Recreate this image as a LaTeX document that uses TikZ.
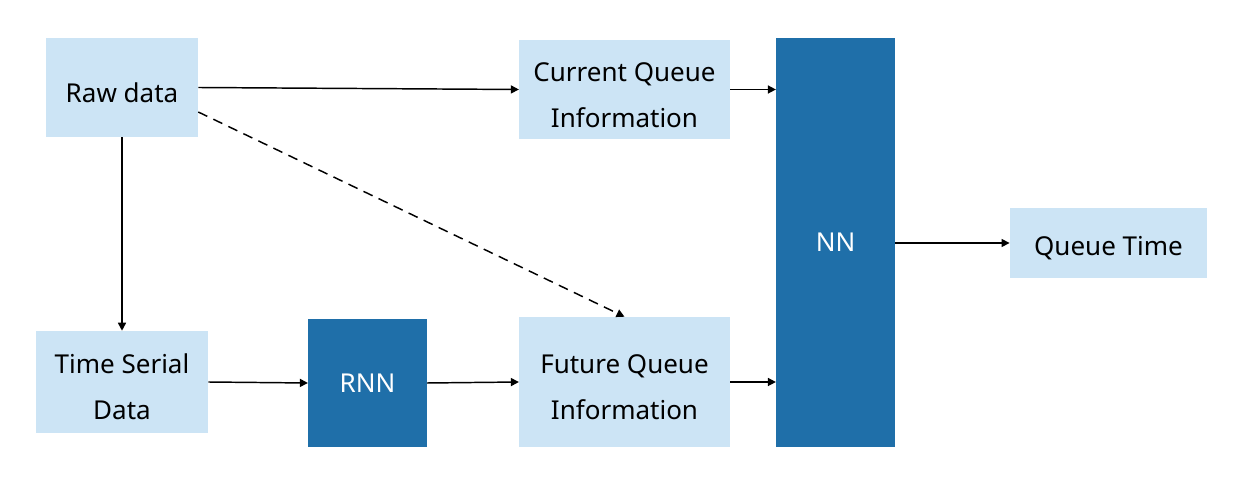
\documentclass[tikz,border=0pt]{standalone}
\usepackage{fontspec}
\setmainfont{Noto Sans}
\usetikzlibrary{arrows.meta,calc,positioning}
\definecolor{ink}{RGB}{0,0,0}
\definecolor{datafill}{RGB}{204,228,245}
\definecolor{netfill}{RGB}{31,111,169}
\newcommand{\lowstrut}{\rule{0pt}{22pt}}
\tikzset{
  databox/.style={
    fill=datafill, draw=none, align=center,
    font=\fontsize{19.5}{34.5}\selectfont, text=ink, inner sep=0pt,
  },
  netbox/.style={
    fill=netfill, draw=none, align=center,
    font=\fontsize{19.5}{34.5}\selectfont, text=white, inner sep=0pt,
  },
  arr/.style={-{Triangle[length=6pt,width=6pt]}, line width=1.1pt, draw=ink},
  dasharr/.style={arr, dash pattern=on 7.5pt off 5pt},
}
\begin{document}
\begin{tikzpicture}[x=0.75pt,y=-0.75pt]
  \useasboundingbox (0,0) rectangle (1242,498);

  % Data boxes
  \node[databox, minimum width=114pt, minimum height=74pt] (raw) at (122,87.5) {\lowstrut Raw data};
  \node[databox, minimum width=158pt, minimum height=74pt] (cur) at (624.5,89.5) {\lowstrut Current Queue\\Information};
  \node[databox, minimum width=129pt, minimum height=76.5pt] (ts) at (122,382) {\lowstrut Time Serial\\Data};
  \node[databox, minimum width=158pt, minimum height=97.5pt] (fut) at (624.5,382) {\lowstrut Future Queue\\Information};
  \node[databox, minimum width=148pt, minimum height=52.5pt] (qt) at (1108.5,243) {\lowstrut Queue Time};

  % Network boxes
  \node[netbox, minimum width=89pt, minimum height=96pt] (rnn) at (367.5,383) {RNN};
  \node[netbox, minimum width=89pt, minimum height=306.75pt] (nn) at (835.5,242.5) {NN};

  % Connectors
  \draw[arr] (raw.east) -- (cur.west);
  \draw[arr] (raw.south) -- (ts.north);
  \draw[dasharr] ($(raw.east)+(0,24.5)$) -- (fut.north);
  \draw[arr] (ts.east) -- (rnn.west);
  \draw[arr] (rnn.east) -- (fut.west);
  \draw[arr] (cur.east) -- (cur.east -| nn.west);
  \draw[arr] (fut.east) -- (fut.east -| nn.west);
  \draw[arr] (nn.east |- qt.west) -- (qt.west);
\end{tikzpicture}
\end{document}
